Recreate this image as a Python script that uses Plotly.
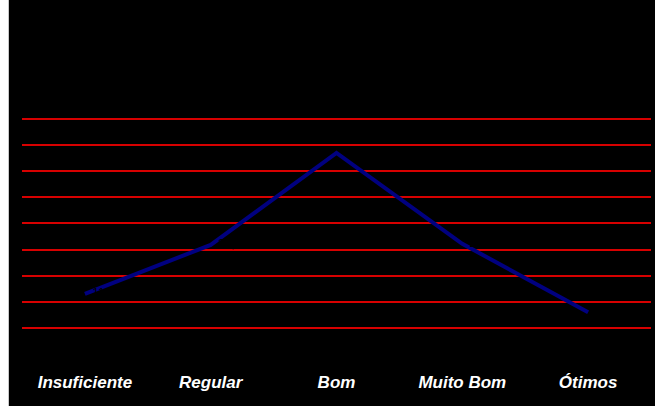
import plotly.graph_objects as go

categories = ["Insuficiente", "Regular", "Bom", "Muito Bom", "Ótimos"]
values = [11.5, 20.9, 38.5, 21.1, 8.0]
labels = ["11,50%", "20,90%", "38,50%", "21,10%", "8,00%"]
grid_vals = [5, 10, 15, 20, 25, 30, 35, 40, 45]

W, H = 655, 406
ml, mr, mt, mb = 22, 4, 113, 52
pw = W - ml - mr
ph = H - mt - mb

fig = go.Figure()
fig.add_trace(go.Scatter(
    x=categories, y=values, text=labels,
    mode="lines+markers+text",
    line=dict(color="#000080", width=4),
    marker=dict(size=10, color="rgba(0,0,0,0)"),
    textposition="middle right",
    textfont=dict(family="Liberation Sans", size=12, color="#000000"),
    hoverinfo="skip",
    cliponaxis=False,
))

fig.update_layout(
    template="none",
    width=W, height=H,
    margin=dict(l=ml, r=mr, t=mt, b=mb),
    paper_bgcolor="#000000",
    plot_bgcolor="#000000",
    showlegend=False,
    xaxis=dict(
        type="category", range=[-0.5, 4.5],
        showgrid=False, zeroline=False, showline=False,
        ticks="outside", ticklen=13, tickcolor="#000000",
        tickvals=categories,
        ticktext=[f"<b><i>{c}</i></b>" for c in categories],
        tickfont=dict(family="Liberation Sans", size=17, color="#ffffff"),
    ),
    yaxis=dict(
        range=[0, 46.15], tickvals=grid_vals,
        showgrid=True, gridcolor="rgb(215,0,0)", gridwidth=1.5,
        zeroline=False, showline=False, showticklabels=False, ticks="",
    ),
    shapes=[
        dict(type="rect", xref="paper", yref="paper",
             x0=-ml / pw, x1=(8 - ml) / pw, y0=-mb / ph, y1=1 + mt / ph,
             fillcolor="#ffffff", line=dict(width=0), layer="above"),
        dict(type="line", xref="paper", yref="paper",
             x0=(8.5 - ml) / pw, x1=(8.5 - ml) / pw, y0=-mb / ph, y1=1 + mt / ph,
             line=dict(color="#c8c8c8", width=1), layer="above"),
    ],
)

fig.write_html(
    "out.html",
    config={"displayModeBar": False},
    post_script="document.body.style.margin='0px';document.body.style.overflow='hidden';",
)
